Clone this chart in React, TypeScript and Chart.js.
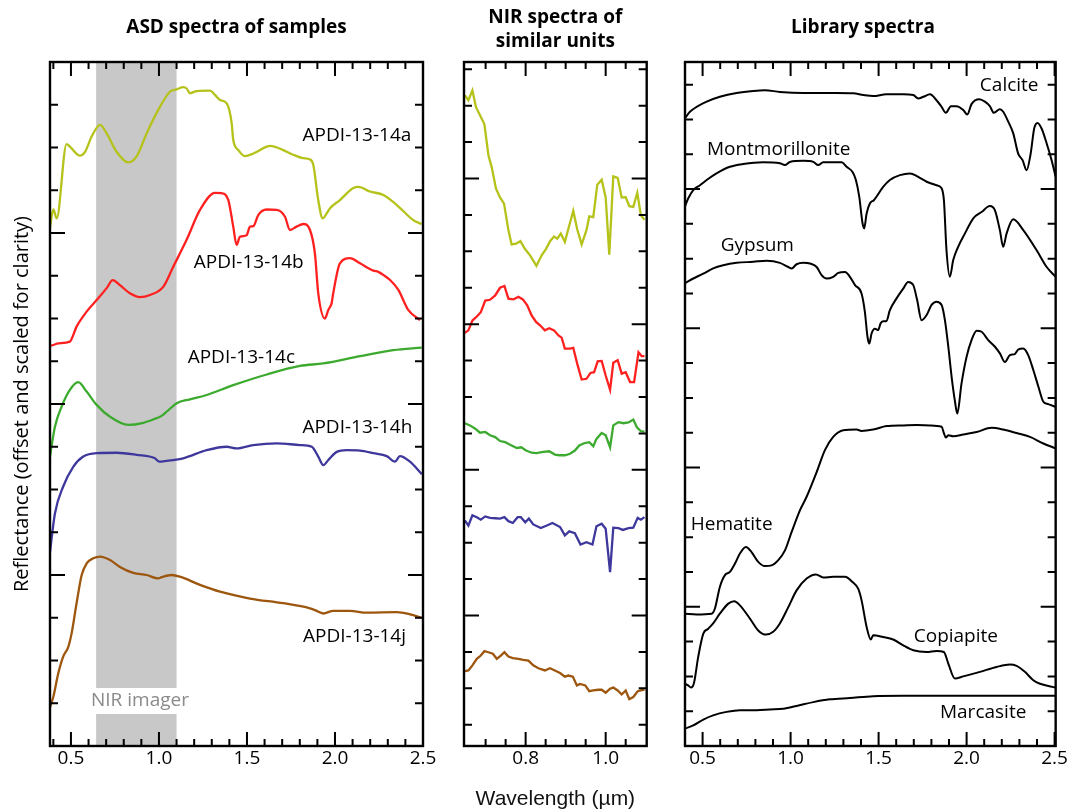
import React, { useEffect, useRef } from 'react';
import { Chart, registerables } from 'chart.js';
Chart.register(...registerables);

const FONT = "'Open Sans', 'Noto Sans', sans-serif";
const AXIS_FONT = "'Liberation Sans', Arial, sans-serif";

// ---------- Panel 1: ASD spectra of samples ----------
const ASD_A_WL = [0.379,0.400,0.419,0.475,0.494,0.551,0.580,0.617,0.665,0.703,0.759,0.826,0.873,0.930,0.996,1.063,1.100,1.138,1.157,1.176,1.214,1.290,1.318,1.347,1.385,1.413,1.422,1.451,1.489,1.536,1.612,1.631,1.706,1.763,1.820,1.858,1.877,1.905,1.930,1.953,1.972,2.028,2.104,2.133,2.199,2.275,2.350,2.445,2.492];
const ASD_A_R = [12.07,12.55,12.34,14.08,14.02,13.81,13.90,14.25,14.53,14.33,13.90,13.65,13.79,14.33,14.88,15.31,15.36,15.41,15.38,15.27,15.32,15.33,15.23,15.11,15.03,14.57,14.18,13.94,13.80,13.86,14.02,14.04,13.94,13.83,13.75,13.72,13.59,12.77,12.34,12.46,12.58,12.77,13.05,13.08,12.97,12.89,12.66,12.30,12.21];
const ASD_B_WL = [0.379,0.400,0.428,0.494,0.532,0.589,0.646,0.703,0.737,0.778,0.835,0.892,0.949,1.024,1.081,1.157,1.233,1.318,1.356,1.394,1.422,1.441,1.460,1.498,1.517,1.536,1.564,1.612,1.669,1.716,1.744,1.782,1.820,1.858,1.886,1.905,1.943,1.962,1.981,1.990,2.028,2.085,2.142,2.218,2.246,2.274,2.313,2.360,2.416,2.483];
const ASD_B_R = [9.36,9.38,9.42,9.46,9.81,10.16,10.43,10.71,10.90,10.78,10.59,10.50,10.55,10.74,11.21,11.84,12.54,12.94,12.93,12.77,12.15,11.72,11.91,11.95,12.15,12.16,12.42,12.55,12.54,12.38,12.07,12.15,12.21,12.07,11.52,10.59,10.00,10.20,10.36,10.59,11.29,11.41,11.29,11.12,11.09,11.02,10.90,10.67,10.20,9.96];
const ASD_C_WL = [0.379,0.409,0.447,0.494,0.541,0.589,0.646,0.722,0.826,0.911,0.987,1.006,1.044,1.101,1.176,1.271,1.422,1.612,1.801,1.934,2.142,2.331,2.493];
const ASD_C_R = [6.73,7.47,7.94,8.33,8.51,8.29,7.98,7.70,7.51,7.56,7.67,7.70,7.82,8.02,8.11,8.21,8.44,8.69,8.89,8.95,9.12,9.26,9.32];
const ASD_H_WL = [0.379,0.409,0.456,0.513,0.570,0.646,0.760,0.873,0.977,1.002,1.044,1.138,1.271,1.385,1.441,1.536,1.669,1.801,1.868,1.905,1.934,1.962,2.010,2.067,2.142,2.218,2.294,2.341,2.369,2.426,2.493];
const ASD_H_R = [4.47,5.44,6.07,6.53,6.77,6.85,6.86,6.81,6.73,6.65,6.67,6.73,6.92,7.00,6.96,7.04,7.08,7.04,7.00,6.77,6.57,6.69,6.88,6.92,6.91,6.85,6.78,6.65,6.78,6.65,6.36];
const ASD_J_WL = [0.379,0.400,0.428,0.456,0.485,0.504,0.532,0.561,0.589,0.627,0.665,0.722,0.778,0.854,0.930,0.996,1.015,1.072,1.119,1.233,1.347,1.517,1.706,1.858,1.886,1.934,1.990,2.085,2.180,2.351,2.426,2.493];
const ASD_J_R = [0.88,1.15,1.70,2.09,2.32,2.64,3.34,4.00,4.27,4.39,4.43,4.35,4.19,4.05,4.00,3.92,3.95,4.00,3.96,3.77,3.61,3.45,3.34,3.22,3.18,3.10,3.16,3.16,3.12,3.13,3.08,3.00];
const ASD_NAMES = ['APDI-13-14a', 'APDI-13-14b', 'APDI-13-14c', 'APDI-13-14h', 'APDI-13-14j'];
const NIR_BAND = [0.643, 1.10];
const NIR_GAP = [0.749, 1.357];

// ---------- Panel 2: NIR spectra of similar units ----------
const NIR_A_WL = [0.648,0.657,0.667,0.676,0.686,0.697,0.707,0.715,0.726,0.736,0.746,0.757,0.765,0.776,0.787,0.798,0.811,0.827,0.840,0.851,0.861,0.871,0.879,0.888,0.898,0.909,0.919,0.929,0.940,0.952,0.959,0.969,0.979,0.990,1.000,1.009,1.019,1.030,1.040,1.050,1.059,1.069,1.079,1.088,1.097];
const NIR_A_R = [14.29,14.15,14.42,13.96,13.74,13.49,12.64,12.32,11.72,11.48,11.31,10.58,10.19,10.21,10.28,10.07,9.89,9.60,9.89,10.07,10.28,10.41,10.35,10.49,10.26,10.71,11.11,10.60,10.19,10.58,10.96,10.94,11.83,11.97,11.48,9.91,12.06,12.02,11.48,11.49,11.24,11.22,11.61,10.99,10.87];
const NIR_B_WL = [0.648,0.657,0.667,0.678,0.688,0.699,0.711,0.724,0.736,0.747,0.757,0.769,0.782,0.793,0.804,0.815,0.826,0.836,0.848,0.859,0.871,0.882,0.890,0.898,0.911,0.919,0.929,0.940,0.952,0.962,0.971,0.980,0.990,1.000,1.011,1.019,1.030,1.040,1.050,1.061,1.071,1.082,1.090,1.097];
const NIR_B_R = [7.76,7.83,8.10,8.21,8.33,8.65,8.67,8.79,9.00,9.05,8.70,8.68,8.75,8.68,8.52,8.24,8.06,7.97,7.83,7.89,7.83,7.69,7.63,7.33,7.33,7.35,6.91,6.48,6.50,6.66,6.68,6.98,6.99,6.59,6.20,6.94,7.01,6.64,6.68,6.41,6.41,7.23,7.12,7.12];
const NIR_C_WL = [0.648,0.661,0.674,0.686,0.699,0.711,0.724,0.736,0.749,0.761,0.778,0.789,0.801,0.815,0.827,0.844,0.859,0.873,0.884,0.898,0.911,0.923,0.934,0.946,0.959,0.969,0.977,0.990,1.000,1.011,1.019,1.032,1.044,1.057,1.069,1.078,1.088,1.097];
const NIR_C_R = [5.28,5.22,5.13,5.02,5.04,4.95,4.90,4.79,4.76,4.69,4.60,4.62,4.53,4.47,4.46,4.49,4.51,4.42,4.40,4.40,4.44,4.53,4.67,4.73,4.76,4.65,4.85,5.01,4.95,4.62,5.22,5.31,5.28,5.30,5.38,5.17,5.06,5.05];
const NIR_H_WL = [0.648,0.657,0.667,0.678,0.688,0.699,0.711,0.724,0.736,0.747,0.757,0.768,0.780,0.788,0.799,0.808,0.819,0.838,0.853,0.867,0.886,0.898,0.909,0.923,0.937,0.952,0.967,0.977,0.990,1.000,1.011,1.019,1.032,1.043,1.057,1.069,1.080,1.088,1.097];
const NIR_H_R = [2.61,2.47,2.75,2.70,2.63,2.72,2.68,2.67,2.66,2.70,2.59,2.54,2.70,2.70,2.56,2.66,2.50,2.40,2.47,2.54,2.43,2.20,2.31,2.26,1.95,2.01,1.95,2.45,2.52,2.38,1.19,2.41,2.40,2.35,2.40,2.41,2.68,2.63,2.70];
const NIR_J_WL = [0.648,0.657,0.667,0.678,0.688,0.697,0.707,0.718,0.728,0.738,0.747,0.757,0.768,0.782,0.794,0.807,0.819,0.832,0.848,0.861,0.873,0.886,0.898,0.907,0.918,0.928,0.936,0.949,0.959,0.969,0.982,0.990,1.000,1.011,1.019,1.030,1.040,1.050,1.059,1.069,1.080,1.088,1.097];
const NIR_J_R = [-1.53,-1.51,-1.37,-1.19,-1.10,-0.98,-1.01,-1.05,-1.19,-1.10,-1.01,-1.13,-1.17,-1.19,-1.22,-1.24,-1.37,-1.45,-1.51,-1.45,-1.51,-1.58,-1.68,-1.65,-1.68,-1.92,-1.88,-1.92,-2.08,-2.06,-2.04,-2.04,-2.12,-2.01,-1.98,-2.06,-2.17,-2.06,-2.30,-2.24,-2.08,-2.06,-2.04];

// ---------- Panel 3: Library spectra ----------
const CALCITE_WL = [0.399,0.428,0.466,0.523,0.598,0.693,0.788,0.854,0.939,1.072,1.166,1.261,1.356,1.413,1.469,1.545,1.640,1.697,1.725,1.754,1.792,1.829,1.858,1.882,1.911,1.943,1.981,2.004,2.028,2.072,2.104,2.132,2.155,2.189,2.208,2.237,2.265,2.293,2.318,2.341,2.364,2.384,2.403,2.426,2.455,2.483,2.506];
const CALCITE_R = [18.03,18.22,18.36,18.51,18.65,18.76,18.82,18.84,18.79,18.76,18.76,18.76,18.75,18.70,18.67,18.72,18.72,18.70,18.60,18.65,18.72,18.55,18.36,18.19,18.38,18.38,18.27,18.14,18.44,18.58,18.51,18.38,18.19,18.29,18.22,17.93,17.60,17.02,16.83,16.54,17.02,17.74,17.90,17.74,17.31,16.83,16.35];
const MONT_WL = [0.399,0.418,0.447,0.485,0.523,0.579,0.655,0.731,0.844,0.939,0.968,0.996,1.072,1.129,1.157,1.185,1.261,1.290,1.318,1.352,1.371,1.390,1.409,1.418,1.432,1.451,1.473,1.488,1.526,1.564,1.621,1.678,1.725,1.773,1.829,1.858,1.871,1.886,1.905,1.924,1.952,1.990,2.038,2.085,2.132,2.161,2.189,2.208,2.227,2.265,2.322,2.398,2.455,2.506];
const MONT_R = [15.49,15.73,15.97,16.11,16.26,16.45,16.64,16.72,16.77,16.74,16.69,16.78,16.81,16.78,16.69,16.77,16.77,16.77,16.64,16.49,16.26,15.78,15.01,14.87,15.30,15.59,15.68,15.78,16.06,16.26,16.40,16.45,16.35,16.21,16.11,16.02,15.68,14.22,13.48,13.96,14.34,14.72,15.16,15.34,15.51,15.39,14.82,14.34,14.72,15.13,14.82,14.24,13.76,13.48];
const GYPSUM_WL = [0.399,0.447,0.504,0.560,0.617,0.693,0.788,0.864,0.939,0.987,1.006,1.034,1.072,1.110,1.148,1.176,1.204,1.242,1.271,1.309,1.337,1.366,1.403,1.422,1.437,1.447,1.460,1.479,1.498,1.511,1.526,1.545,1.564,1.602,1.640,1.668,1.697,1.719,1.744,1.773,1.801,1.829,1.858,1.877,1.896,1.915,1.933,1.947,1.971,2.000,2.028,2.057,2.085,2.123,2.161,2.189,2.218,2.246,2.274,2.293,2.322,2.350,2.379,2.408,2.436,2.464,2.506];
const GYPSUM_R = [13.30,13.43,13.57,13.72,13.81,13.88,13.91,13.94,13.88,13.76,13.72,13.84,13.88,13.86,13.76,13.53,13.43,13.48,13.59,13.62,13.48,13.24,13.00,12.47,11.75,11.56,11.85,11.99,11.95,12.14,12.20,12.21,12.52,12.86,13.14,13.33,13.24,12.81,12.23,12.38,12.67,12.76,12.67,12.23,11.47,10.60,9.93,9.55,10.41,11.18,11.66,11.93,11.90,11.66,11.47,11.28,11.03,11.23,11.26,11.39,11.42,11.23,10.80,10.32,9.89,9.82,9.74];
const HEMATITE_WL = [0.399,0.466,0.551,0.570,0.598,0.627,0.655,0.684,0.712,0.746,0.778,0.816,0.854,0.892,0.930,0.968,1.006,1.053,1.091,1.148,1.195,1.242,1.299,1.375,1.403,1.469,1.545,1.640,1.716,1.792,1.858,1.871,1.882,1.896,1.924,1.981,2.057,2.142,2.208,2.284,2.360,2.436,2.506];
const HEMATITE_R = [3.80,3.78,3.80,3.95,4.57,4.91,5.00,5.24,5.53,5.72,5.57,5.29,5.17,5.19,5.34,5.62,6.15,6.77,7.16,7.87,8.50,8.88,9.07,9.09,9.05,9.09,9.19,9.21,9.22,9.21,9.17,8.99,8.86,8.93,8.90,8.95,9.02,9.14,9.09,8.99,8.88,8.69,8.55];
const COPIAPITE_WL = [0.399,0.418,0.434,0.451,0.475,0.504,0.532,0.560,0.598,0.646,0.680,0.712,0.769,0.816,0.860,0.901,0.939,0.987,1.034,1.091,1.144,1.185,1.242,1.309,1.352,1.384,1.403,1.432,1.456,1.469,1.526,1.583,1.640,1.697,1.773,1.829,1.871,1.896,1.933,1.981,2.076,2.170,2.246,2.284,2.331,2.379,2.417,2.506];
const COPIAPITE_R = [1.79,1.74,1.68,1.81,2.56,3.23,3.37,3.52,3.80,4.09,4.16,4.04,3.66,3.32,3.20,3.28,3.52,3.99,4.47,4.81,4.93,4.84,4.86,4.86,4.71,4.52,4.19,3.42,3.06,3.18,3.13,3.06,2.89,2.75,2.70,2.73,2.70,2.37,1.94,2.00,2.13,2.27,2.34,2.30,2.13,1.89,1.79,1.68];
const MARCASITE_WL = [0.399,0.447,0.504,0.560,0.636,0.712,0.807,0.882,0.958,1.034,1.129,1.223,1.337,1.469,1.640,1.829,2.018,2.208,2.398,2.506];
const MARCASITE_R = [0.50,0.59,0.76,0.88,0.98,1.03,1.03,1.05,1.07,1.15,1.26,1.34,1.38,1.43,1.44,1.44,1.44,1.44,1.44,1.44];
const LIB_NAMES = ['Calcite', 'Montmorillonite', 'Gypsum', 'Hematite', 'Copiapite', 'Marcasite'];

// ---------- Tick values ----------
const WIDE_X_LABELS = [0.5, 1.0, 1.5, 2.0, 2.5];
const WIDE_X_MINOR = [0.4,0.6,0.7,0.8,0.9,1.1,1.2,1.3,1.4,1.6,1.7,1.8,1.9,2.1,2.2,2.3,2.4];
const NIR_X_LABELS = [0.8, 1.0];
const NIR_X_MINOR = [0.70,0.75,0.85,0.90,0.95,1.05];
const P1_Y_MAJOR = [4, 8, 12];
const P1_Y_MINOR = [1,2,3,5,6,7,9,10,11,13,14,15];
const P2_Y_MAJOR = [0, 4, 8, 12];
const P2_Y_MINOR = [-3,-2,-1,1,2,3,5,6,7,9,10,11,13,14,15];
const P3_Y_MAJOR = [4, 8, 12, 16];
const P3_Y_MINOR = [1,2,3,5,6,7,9,10,11,13,14,15,17,18,19];

const COLORS = { a: '#b5c21a', b: '#ff2020', c: '#3caa2e', h: '#3f389c', j: '#9d560e' };

const pts = (wl: number[], r: number[]) => wl.map((x, i) => ({ x, y: r[i] }));
const ds = (label: string, wl: number[], r: number[], color: string, smooth = true, width = 2.3) => ({
  label, data: pts(wl, r), borderColor: color, backgroundColor: color, borderWidth: width,
  pointRadius: 0, fill: false, tension: 0,
  cubicInterpolationMode: smooth ? 'monotone' : 'default',
});

function framePlugin(spec: any) {
  return {
    id: 'frameTicks',
    afterDatasetsDraw(chart: any) {
      const { ctx, chartArea: a, scales } = chart;
      const xs = scales.x, ys = scales.y;
      ctx.save();
      ctx.strokeStyle = '#000';
      ctx.lineWidth = 2;
      const dx = (vals: number[], len: number) => vals.forEach((v) => {
        const p = xs.getPixelForValue(v);
        ctx.beginPath();
        ctx.moveTo(p, a.bottom); ctx.lineTo(p, a.bottom - len);
        ctx.moveTo(p, a.top); ctx.lineTo(p, a.top + len);
        ctx.stroke();
      });
      const dy = (vals: number[], len: number) => vals.forEach((v) => {
        const p = ys.getPixelForValue(v);
        ctx.beginPath();
        ctx.moveTo(a.left, p); ctx.lineTo(a.left + len, p);
        ctx.moveTo(a.right, p); ctx.lineTo(a.right - len, p);
        ctx.stroke();
      });
      dx(spec.xMinor, 7); dx(spec.xMajor, 14);
      dy(spec.yMinor, 8); dy(spec.yMajor, 15);
      ctx.lineWidth = 2.4;
      ctx.strokeRect(a.left, a.top, a.right - a.left, a.bottom - a.top);
      ctx.restore();
    },
  };
}

function labelPlugin(items: { text: string; x: number; y: number; color?: string }[], size: number) {
  return {
    id: 'textLabels',
    afterDatasetsDraw(chart: any) {
      const { ctx, scales } = chart;
      ctx.save();
      ctx.font = `${size}px ${FONT}`;
      ctx.textAlign = 'center';
      ctx.textBaseline = 'middle';
      items.forEach((l) => {
        ctx.fillStyle = l.color || '#000';
        ctx.fillText(l.text, scales.x.getPixelForValue(l.x), scales.y.getPixelForValue(l.y));
      });
      ctx.restore();
    },
  };
}

const bandPlugin = {
  id: 'nirBand',
  beforeDatasetsDraw(chart: any) {
    const { ctx, chartArea: a, scales } = chart;
    const x0 = scales.x.getPixelForValue(NIR_BAND[0]);
    const x1 = scales.x.getPixelForValue(NIR_BAND[1]);
    const gTop = scales.y.getPixelForValue(NIR_GAP[1]);
    const gBot = scales.y.getPixelForValue(NIR_GAP[0]);
    ctx.save();
    ctx.fillStyle = '#c8c8c8';
    ctx.fillRect(x0, a.top, x1 - x0, gTop - a.top);
    ctx.fillRect(x0, gBot, x1 - x0, a.bottom - gBot);
    ctx.restore();
  },
};

const tickFont = { family: FONT, size: 19, lineHeight: 1.2 };
const xAxis = (min: number, max: number, labels: number[], title?: string) => ({
  type: 'linear', min, max,
  grid: { display: false, drawTicks: false },
  border: { display: false },
  afterBuildTicks: (s: any) => { s.ticks = labels.map((v) => ({ value: v })); },
  afterFit: (s: any) => { s.height = 66; },
  ticks: { autoSkip: false, maxRotation: 0, padding: 1, color: '#000', font: tickFont, callback: (v: any) => Number(v).toFixed(1) },
  title: title
    ? { display: true, text: title, color: '#111', font: { family: AXIS_FONT, size: 21, lineHeight: 1.2 }, padding: { top: 0, bottom: 0.4 } }
    : { display: false },
});
const hiddenY = (min: number, max: number, width: number, position = 'left', title?: string) => ({
  type: 'linear', min, max, position, display: true,
  grid: { display: false, drawTicks: false },
  border: { display: false },
  ticks: { display: false },
  afterFit: (s: any) => { s.width = width; },
  title: title
    ? { display: true, text: title, color: '#000', font: { family: FONT, size: 20, lineHeight: 1.2 }, padding: { top: 10.5, bottom: 0 } }
    : { display: false },
});
const titleOpt = (text: any, fullSize: boolean, lh: number, top: number, bottom: number) => ({
  display: true, text, fullSize, color: '#000',
  font: { family: FONT, size: 19, weight: 'bold', lineHeight: lh },
  padding: { top, bottom },
});

function config1(): any {
  return {
    type: 'line',
    data: {
      datasets: [
        ds(ASD_NAMES[0], ASD_A_WL, ASD_A_R, COLORS.a),
        ds(ASD_NAMES[1], ASD_B_WL, ASD_B_R, COLORS.b),
        ds(ASD_NAMES[2], ASD_C_WL, ASD_C_R, COLORS.c),
        ds(ASD_NAMES[3], ASD_H_WL, ASD_H_R, COLORS.h),
        ds(ASD_NAMES[4], ASD_J_WL, ASD_J_R, COLORS.j),
      ],
    },
    options: {
      responsive: false, animation: false, events: [],
      layout: { padding: { left: 0, right: 17, top: 0, bottom: 0 } },
      scales: {
        x: xAxis(0.381, 2.5, WIDE_X_LABELS),
        y: hiddenY(0, 16, 50, 'left', 'Reflectance (offset and scaled for clarity)'),
      },
      plugins: {
        legend: { display: false }, tooltip: { enabled: false },
        title: titleOpt('ASD spectra of samples', false, 1.2, 16.6, 22.6),
      },
    },
    plugins: [
      bandPlugin,
      framePlugin({ xMinor: WIDE_X_MINOR, xMajor: WIDE_X_LABELS, yMinor: P1_Y_MINOR, yMajor: P1_Y_MAJOR }),
      labelPlugin([
        { text: ASD_NAMES[0], x: 2.125, y: 14.29 },
        { text: ASD_NAMES[1], x: 1.51, y: 11.31 },
        { text: ASD_NAMES[2], x: 1.468, y: 9.08 },
        { text: ASD_NAMES[3], x: 2.127, y: 7.45 },
        { text: ASD_NAMES[4], x: 2.111, y: 2.56 },
        { text: 'NIR imager', x: 0.892, y: 1.07, color: '#8a8a8a' },
      ], 19),
    ],
  };
}

function config2(): any {
  return {
    type: 'line',
    data: {
      datasets: [
        ds(ASD_NAMES[0], NIR_A_WL, NIR_A_R, COLORS.a, false),
        ds(ASD_NAMES[1], NIR_B_WL, NIR_B_R, COLORS.b, false),
        ds(ASD_NAMES[2], NIR_C_WL, NIR_C_R, COLORS.c, false),
        ds(ASD_NAMES[3], NIR_H_WL, NIR_H_R, COLORS.h, false),
        ds(ASD_NAMES[4], NIR_J_WL, NIR_J_R, COLORS.j, false),
      ],
    },
    options: {
      responsive: false, animation: false, events: [],
      layout: { padding: { left: 24, right: 10.3, top: 0, bottom: 0 } },
      scales: {
        x: xAxis(0.646, 1.1025, NIR_X_LABELS, 'Wavelength (µm)'),
        y: { type: 'linear', min: -3.585, max: 15.2, display: false },
      },
      plugins: {
        legend: { display: false }, tooltip: { enabled: false },
        title: titleOpt(['NIR spectra of', 'similar units'], false, 1.29, 5.25, 7.75),
      },
    },
    plugins: [
      framePlugin({ xMinor: NIR_X_MINOR, xMajor: NIR_X_LABELS, yMinor: P2_Y_MINOR, yMajor: P2_Y_MAJOR }),
    ],
  };
}

function config3(): any {
  return {
    type: 'line',
    data: {
      datasets: [
        ds(LIB_NAMES[0], CALCITE_WL, CALCITE_R, '#000', true, 2),
        ds(LIB_NAMES[1], MONT_WL, MONT_R, '#000', true, 2),
        ds(LIB_NAMES[2], GYPSUM_WL, GYPSUM_R, '#000', true, 2),
        ds(LIB_NAMES[3], HEMATITE_WL, HEMATITE_R, '#000', true, 2),
        ds(LIB_NAMES[4], COPIAPITE_WL, COPIAPITE_R, '#000', true, 2),
        ds(LIB_NAMES[5], MARCASITE_WL, MARCASITE_R, '#000', true, 2),
      ],
    },
    options: {
      responsive: false, animation: false, events: [],
      layout: { padding: 0 },
      scales: {
        x: xAxis(0.4, 2.506, WIDE_X_LABELS),
        y: hiddenY(0, 19.65, 28, 'left'),
        y2: hiddenY(0, 19.65, 13.3, 'right'),
      },
      plugins: {
        legend: { display: false }, tooltip: { enabled: false },
        title: titleOpt('Library spectra', true, 1.2, 16.6, 22.6),
      },
    },
    plugins: [
      framePlugin({ xMinor: WIDE_X_MINOR.filter((v) => v > 0.45), xMajor: WIDE_X_LABELS, yMinor: P3_Y_MINOR, yMajor: P3_Y_MAJOR }),
      labelPlugin([
        { text: LIB_NAMES[0], x: 2.242, y: 18.96 },
        { text: LIB_NAMES[1], x: 0.932, y: 17.12 },
        { text: LIB_NAMES[2], x: 0.811, y: 14.39 },
        { text: LIB_NAMES[3], x: 0.665, y: 6.37 },
        { text: LIB_NAMES[4], x: 1.939, y: 3.13 },
        { text: LIB_NAMES[5], x: 2.094, y: 0.95 },
      ], 19),
    ],
  };
}

function Panel({ left, width, make }: { left: number; width: number; make: () => any }) {
  const ref = useRef<HTMLCanvasElement>(null);
  useEffect(() => {
    if (!ref.current) return;
    const chart = new Chart(ref.current, make());
    return () => chart.destroy();
  }, []);
  return (
    <div style={{ position: 'absolute', left, top: 0, width, height: 812 }}>
      <canvas ref={ref} width={width} height={812} style={{ width, height: 812, display: 'block' }} />
    </div>
  );
}

export default function App() {
  return (
    <div style={{ position: 'absolute', left: 0, top: 0, width: 1069, height: 812, background: '#fff', overflow: 'hidden' }}>
      <Panel left={0} width={440} make={config1} />
      <Panel left={440} width={217} make={config2} />
      <Panel left={657} width={412} make={config3} />
    </div>
  );
}
